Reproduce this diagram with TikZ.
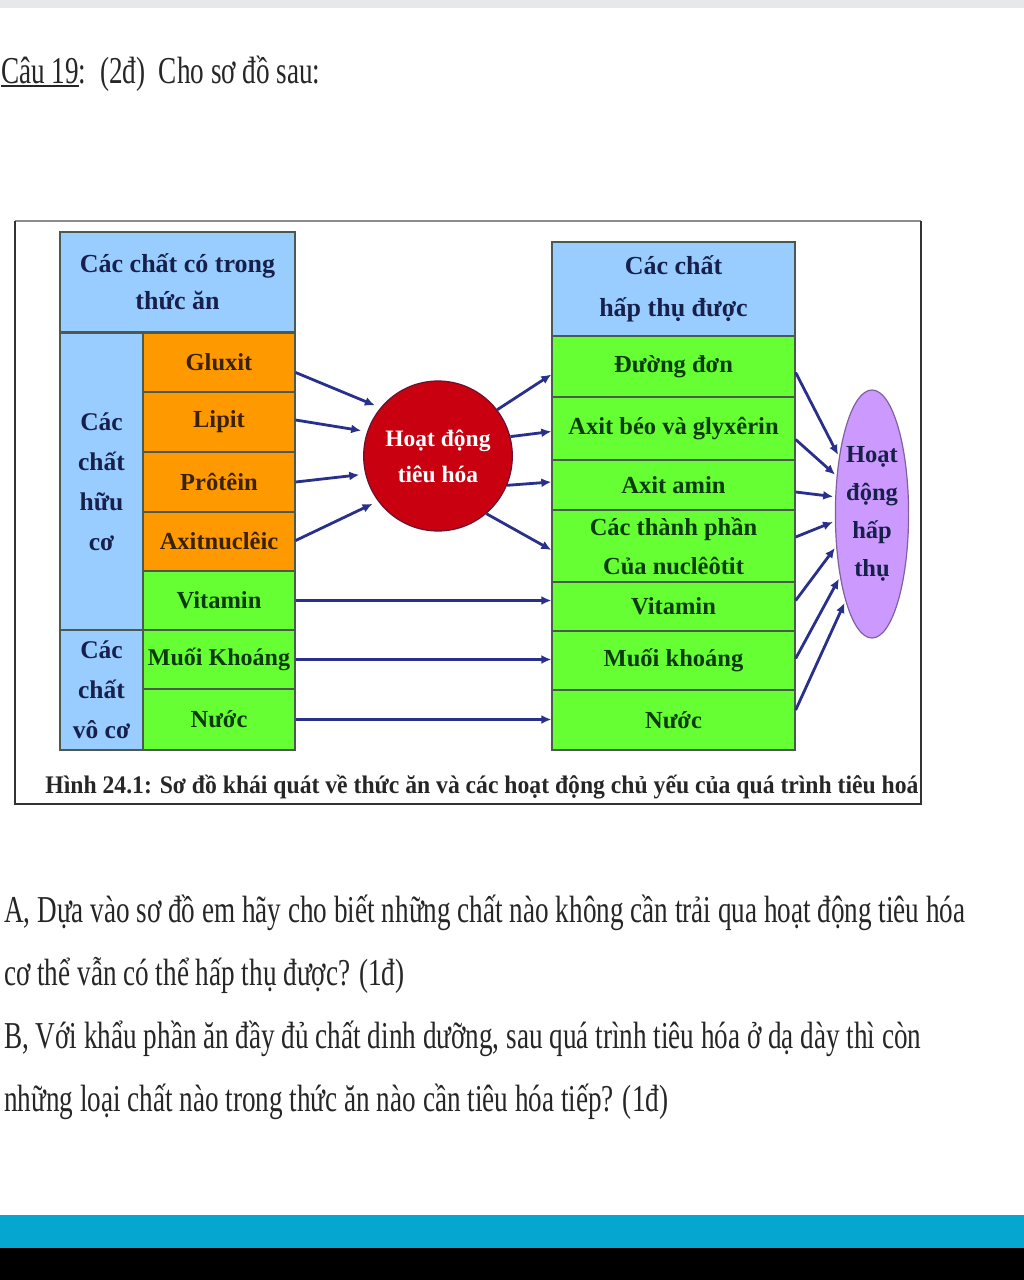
\documentclass[tikz,border=0pt]{standalone}
\usepackage{fontspec}
\setmainfont{Liberation Serif}
\newfontfamily\condfont[FakeStretch=0.715]{Liberation Serif}
\newfontfamily\capfont[FakeStretch=0.935]{Liberation Serif}
\usetikzlibrary{shapes.geometric,arrows.meta}
\definecolor{cblue}{HTML}{99CCFF}
\definecolor{corange}{HTML}{FF9900}
\definecolor{cgreen}{HTML}{66FF33}
\definecolor{cred}{HTML}{C80010}
\definecolor{credb}{HTML}{6A1030}
\definecolor{cpurple}{HTML}{CC99FF}
\definecolor{cpurpleb}{HTML}{8060A0}
\definecolor{carrow}{HTML}{28308C}
\definecolor{ctblue}{HTML}{17204A}
\definecolor{ctgreen}{HTML}{0B3A0B}
\definecolor{ctorange}{HTML}{3A2200}
\definecolor{ccyan}{HTML}{05A6CF}
\definecolor{ctopgray}{HTML}{E6E8EC}
\definecolor{cline}{HTML}{4A5A50}
\newcommand\myul[1]{\setbox0\hbox{#1}\rlap{\rule[-4pt]{\wd0}{2.5pt}}\box0}
\tikzset{
  cell/.style={draw=cline, line width=1.3pt, inner sep=0pt, align=center,
    font=\bfseries\fontsize{24.5}{38}\selectfont},
  bluecell/.style={cell, fill=cblue, text=ctblue},
  orcell/.style={cell, fill=corange, text=ctorange},
  grcell/.style={cell, fill=cgreen, text=ctgreen},
  arr/.style={draw=carrow, line width=2.8pt, -{Latex[length=10pt,width=9pt]}},
  qtext/.style={anchor=base west, inner sep=0pt, text=black!85,
    font=\condfont\fontsize{38}{44}\selectfont}
}
\begin{document}
\begin{tikzpicture}[x=1pt,y=-1pt]
\useasboundingbox (0,0) rectangle (1024,1280);
\fill[white] (0,0) rectangle (1024,1280);
\fill[ctopgray] (0,0) rectangle (1024,8);
\fill[ccyan] (0,1215) rectangle (1024,1248);
\fill[black] (0,1248) rectangle (1024,1280);

% heading
\node[qtext] (title) at (1,83) {\myul{Câu 19}:\ \ (2đ)\ \ Cho sơ đồ sau:};

% frame
\draw[black!45, line width=2pt] (15,221) -- (921,221);
\draw[black!80, line width=2.5pt] (15,221) -- (15,804) -- (921,804) -- (921,221);

% left table
\node[bluecell, minimum width=235pt, minimum height=100pt, font=\bfseries\fontsize{26}{37}\selectfont] (lhead) at (177.5,282) {Các chất có trong\\thức ăn};
\node[bluecell, minimum width=83pt, minimum height=298pt, font=\bfseries\fontsize{25.5}{40}\selectfont] (lhuuco) at (101.5,482) {Các\\chất\\hữu\\cơ};
\node[bluecell, minimum width=83pt, minimum height=120pt, font=\bfseries\fontsize{25.5}{40}\selectfont] (lvoco) at (101.5,690) {Các\\chất\\vô cơ};
\node[orcell, minimum width=152pt, minimum height=59pt] (lglu) at (219,362.5) {Gluxit};
\node[orcell, minimum width=152pt, minimum height=60pt] (llip) at (219,422) {Lipit};
\node[orcell, minimum width=152pt, minimum height=60pt] (lpro) at (219,482) {Prôtêin};
\node[orcell, minimum width=152pt, minimum height=59pt] (laxn) at (219,541.5) {Axitnuclêic};
\node[grcell, minimum width=152pt, minimum height=59pt] (lvit) at (219,600.5) {Vitamin};
\node[grcell, minimum width=152pt, minimum height=59pt, font=\bfseries\fontsize{24}{38}\selectfont] (lmuoi) at (219,659.5) {Muối Khoáng};
\node[grcell, minimum width=152pt, minimum height=61pt] (lnuoc) at (219,719.5) {Nước};

% right table
\node[bluecell, minimum width=243pt, minimum height=94pt, font=\bfseries\fontsize{26}{42}\selectfont] (rhead) at (673.5,289) {Các chất\\hấp thụ được};
\node[grcell, minimum width=243pt, minimum height=61pt] (rduong) at (673.5,366.5) {Đường đơn};
\node[grcell, minimum width=243pt, minimum height=63pt] (raxbeo) at (673.5,428.5) {Axit béo và glyxêrin};
\node[grcell, minimum width=243pt, minimum height=50pt] (raxam) at (673.5,485) {Axit amin};
\node[grcell, minimum width=243pt, minimum height=72pt, font=\bfseries\fontsize{24.5}{39}\selectfont] (rthanh) at (673.5,546) {Các thành phần\\Của nuclêôtit};
\node[grcell, minimum width=243pt, minimum height=49pt] (rvit) at (673.5,606.5) {Vitamin};
\node[grcell, minimum width=243pt, minimum height=59pt] (rmuoi) at (673.5,660.5) {Muối khoáng};
\node[grcell, minimum width=243pt, minimum height=60pt] (rnuoc) at (673.5,720) {Nước};

% digestion circle
\node[ellipse, fill=cred, draw=credb, line width=1.2pt, minimum width=122pt, minimum height=150pt,
  inner sep=0pt, text=white, align=center, font=\bfseries\fontsize{23.5}{36}\selectfont] (tieuhoa) at (438,456) {Hoạt động\\tiêu hóa};

% absorption ellipse
\node[ellipse, fill=cpurple, draw=cpurpleb, line width=1.2pt, minimum width=60pt, minimum height=248pt,
  inner sep=0pt, text=ctblue, align=center, font=\bfseries\fontsize{24.5}{38}\selectfont] (hapthu) at (872,514) {Hoạt\\động\\hấp\\thụ};

% arrows into digestion
\draw[arr, shorten >=6pt] ([yshift=-10pt]lglu.east) -- (tieuhoa.140);
\draw[arr, shorten >=6pt] ([yshift=2pt]llip.east) -- (tieuhoa.161);
\draw[arr, shorten >=6pt] (lpro.east) -- (tieuhoa.194);
\draw[arr, shorten >=6pt] ([yshift=1pt]laxn.east) -- (tieuhoa.217);

% arrows out of digestion
\draw[arr] (tieuhoa.38) -- ([yshift=-8pt]rduong.west);
\draw[arr] (tieuhoa.15) -- ([yshift=-3pt]raxbeo.west);
\draw[arr] (tieuhoa.337) -- ([yshift=3pt]raxam.west);
\draw[arr] (tieuhoa.310) -- ([yshift=-4pt]rthanh.west);

% straight arrows
\draw[arr] (lvit.east) -- (lvit.east -| rvit.west);
\draw[arr] (lmuoi.east) -- (lmuoi.east -| rmuoi.west);
\draw[arr] (lnuoc.east) -- (lnuoc.east -| rnuoc.west);

% arrows into absorption
\draw[arr, shorten >=2pt] ([yshift=-6pt]rduong.east) -- (hapthu.120);
\draw[arr, shorten >=2pt] ([yshift=-11pt]raxbeo.east) -- (hapthu.133);
\draw[arr, shorten >=2pt] ([yshift=-7pt]raxam.east) -- (hapthu.155);
\draw[arr, shorten >=2pt] ([yshift=9pt]rthanh.east) -- (hapthu.191);
\draw[arr, shorten >=2pt] ([yshift=6pt]rvit.east) -- (hapthu.222);
\draw[arr, shorten >=2pt] ([yshift=2pt]rmuoi.east) -- (hapthu.243);
\draw[arr, shorten >=2pt] ([yshift=10pt]rnuoc.east) -- (hapthu.253);

% caption
\node[inner sep=0pt, text=black!85, font=\capfont\bfseries\fontsize{25.3}{30}\selectfont] (caption) at (482,787)
  {Hình 24.1: Sơ đồ khái quát về thức ăn và các hoạt động chủ yếu của quá trình tiêu hoá};

% questions
\node[qtext] (qa1) at (4,922) {A, Dựa vào sơ đồ em hãy cho biết những chất nào không cần trải qua hoạt động tiêu hóa};
\node[qtext] (qa2) at (4,985) {cơ thể vẫn có thể hấp thụ được? (1đ)};
\node[qtext] (qb1) at (4,1048) {B, Với khẩu phần ăn đầy đủ chất dinh dưỡng, sau quá trình tiêu hóa ở dạ dày thì còn};
\node[qtext] (qb2) at (4,1111) {những loại chất nào trong thức ăn nào cần tiêu hóa tiếp? (1đ)};
\end{tikzpicture}
\end{document}
